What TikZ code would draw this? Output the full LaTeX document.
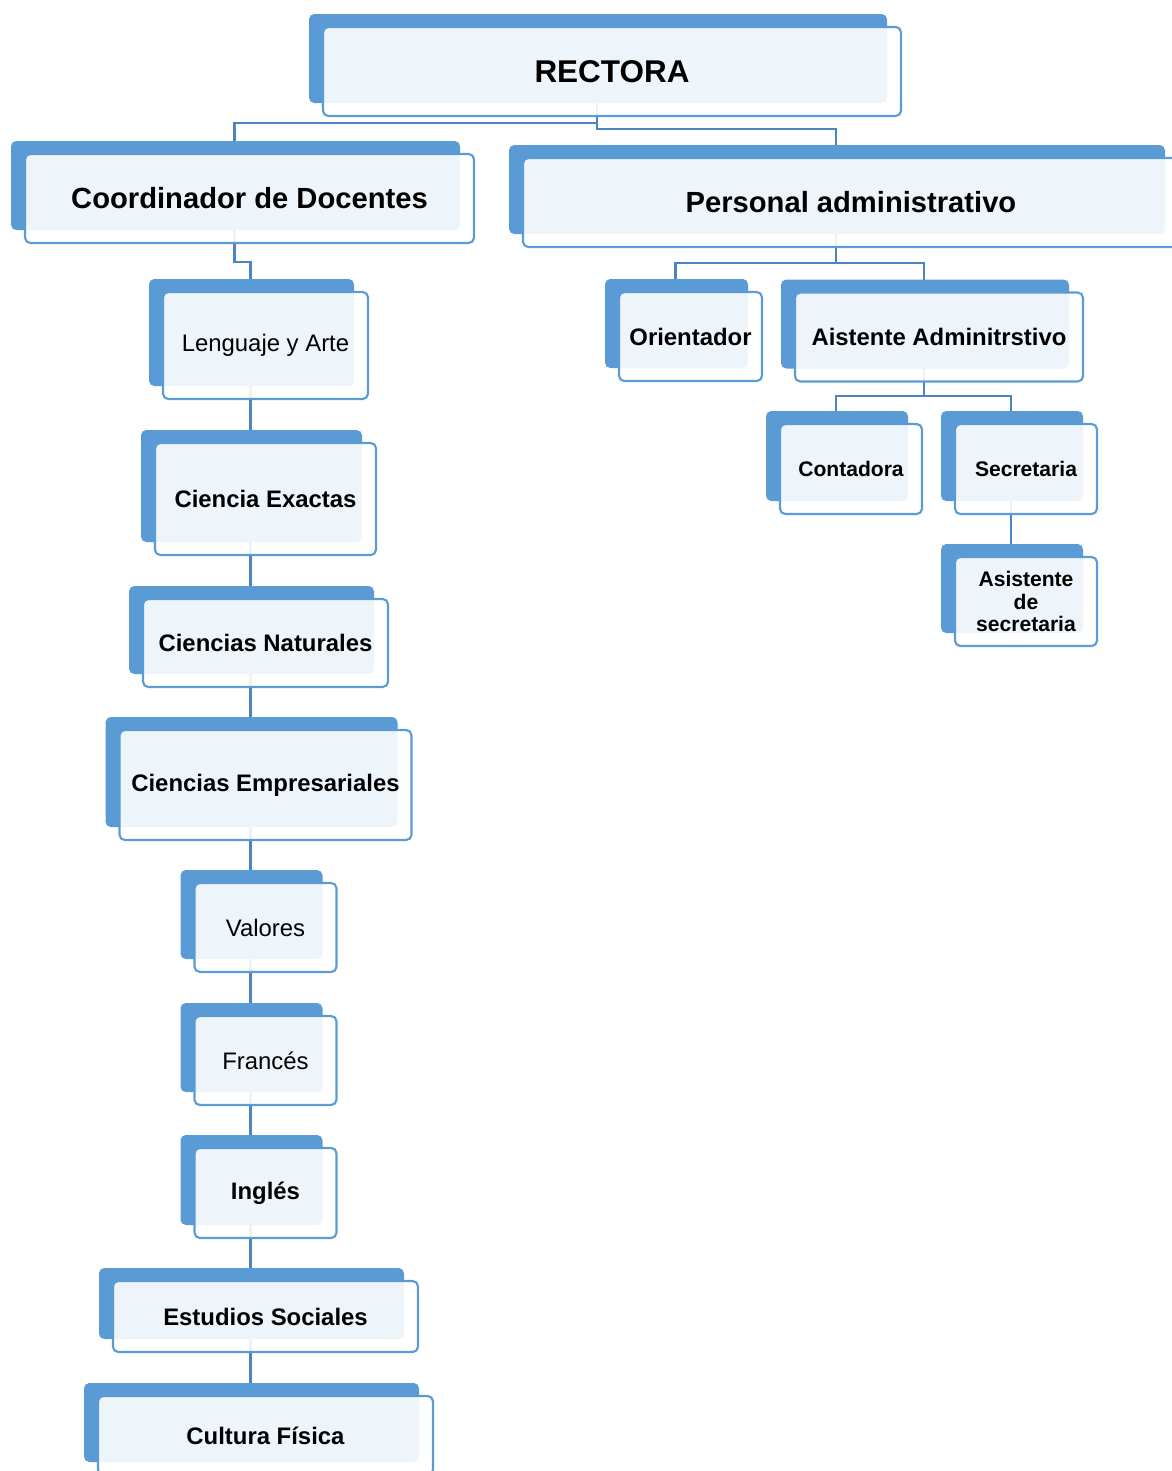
\documentclass[tikz,border=0pt]{standalone}
\usepackage{fontspec}
\setmainfont{Liberation Sans}
\usetikzlibrary{shadows,backgrounds}
\definecolor{boxblue}{HTML}{5B9BD5}
\definecolor{linkblue}{HTML}{4A84C4}

\begin{document}
\begin{tikzpicture}[x=0.02cm, y=-0.02cm,
    unit/.style={rectangle,draw=boxblue,line width=1.2pt,rounded corners=3pt,
        fill=white,fill opacity=0.9,text opacity=1,inner sep=2pt,align=center,
        drop shadow={opacity=1,fill=boxblue,shadow xshift=-0.28cm,shadow yshift=0.26cm}},
    wh/.style 2 args={minimum width=#1*0.02cm,minimum height=#2*0.02cm},
    top/.style={font=\bfseries\fontsize{17.9pt}{21pt}\selectfont},
    head/.style={font=\bfseries\fontsize{16.6pt}{20pt}\selectfont},
    subj/.style={font=\fontsize{13.6pt}{16pt}\selectfont},
    subjb/.style={font=\bfseries\fontsize{13.6pt}{16pt}\selectfont},
    staff/.style={font=\bfseries\fontsize{12pt}{13pt}\selectfont},
    link/.style={draw=linkblue,line width=1.2pt},
    hub/.style={xshift=-0.3cm}
]
\useasboundingbox (0,0) rectangle (1172,1471);

% Top
\node[unit,top,wh={578}{89}] (rectora) at (612,71.5) {RECTORA};
\node[unit,head,wh={449}{89}] (coord) at (249.5,198.5) {Coordinador de Docentes};
\node[unit,head,wh={656}{89}] (personal) at (851,202.5) {Personal administrativo};

% Subject areas
\node[unit,subj,wh={205}{107}] (lenguaje) at (265.5,345.5) {Lenguaje y Arte};
\node[unit,subjb,wh={221}{112}] (exactas) at (265.5,499) {Ciencia Exactas};
\node[unit,subjb,wh={245}{88}] (naturales) at (265.5,643) {Ciencias Naturales};
\node[unit,subjb,wh={292}{110}] (empresa) at (265.5,785) {Ciencias Empresariales};
\node[unit,subj,wh={142}{89}] (valores) at (265.5,927.5) {Valores};
\node[unit,subj,wh={142}{89}] (frances) at (265.5,1060.5) {Francés};
\node[unit,subjb,wh={142}{90}] (ingles) at (265.5,1193) {Inglés};
\node[unit,subjb,wh={305}{71}] (sociales) at (265.5,1316.5) {Estudios Sociales};
\node[unit,subjb,wh={335}{79}] (fisica) at (265.5,1435.5) {Cultura Física};

% Administrative staff
\node[unit,subjb,wh={143}{89}] (orientador) at (690.5,336.5) {Orientador};
\node[unit,subjb,wh={288}{89}] (asistadm) at (939,337) {Aistente Adminitrstivo};
\node[unit,staff,wh={142}{90}] (contadora) at (851,469) {Contadora};
\node[unit,staff,wh={142}{90}] (secretaria) at (1026,469) {Secretaria};
\node[unit,staff,wh={142}{89}] (asistsec) at (1026,601.5) {Asistente\\de\\secretaria};

% Connectors
\begin{scope}[on background layer]
\draw[link] ([hub]rectora.center) -- ++(0,51.5) -| ([hub]coord.center);
\draw[link] ([hub]rectora.center) -- ++(0,57.5) -| ([hub]personal.center);
\draw[link] ([hub]coord.center) -- ++(0,63.5) -| ([hub]lenguaje.center);
\foreach \a/\b in {lenguaje/exactas,exactas/naturales,naturales/empresa,empresa/valores,
    valores/frances,frances/ingles,ingles/sociales,sociales/fisica}
  \draw[link] ([hub]\a.center) -- ([hub]\b.center);
\draw[link] ([hub]personal.center) -- ++(0,60.5) -| ([hub]orientador.center);
\draw[link] ([hub]personal.center) -- ++(0,60.5) -| ([hub]asistadm.center);
\draw[link] ([hub]asistadm.center) -- ++(0,59) -| ([hub]contadora.center);
\draw[link] ([hub]asistadm.center) -- ++(0,59) -| ([hub]secretaria.center);
\draw[link] ([hub]secretaria.center) -- ([hub]asistsec.center);
\end{scope}

\end{tikzpicture}
\end{document}
